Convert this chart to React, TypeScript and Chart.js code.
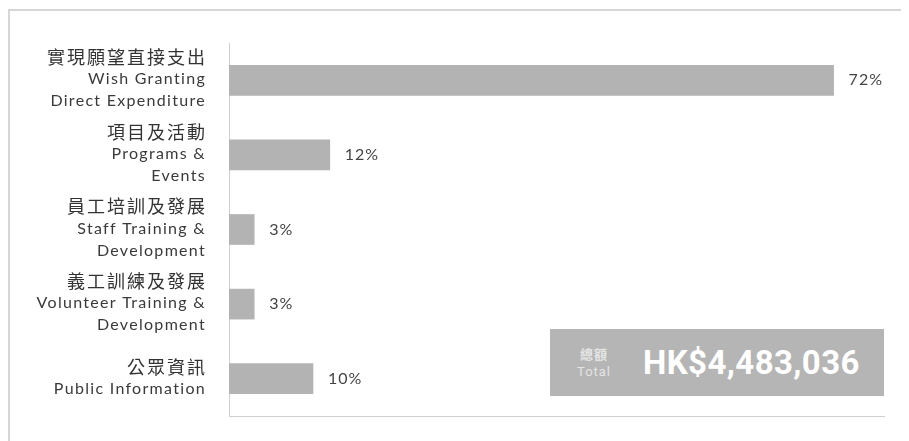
import React, { useEffect, useRef } from "react";
import { Chart, registerables } from "chart.js";

Chart.register(...registerables);

const categoriesZh: string[] = ["實現願望直接支出", "項目及活動", "員工培訓及發展", "義工訓練及發展", "公眾資訊"];
const categoriesEn: string[][] = [
  ["Wish Granting", "Direct Expenditure"],
  ["Programs &", "Events"],
  ["Staff Training &", "Development"],
  ["Volunteer Training &", "Development"],
  ["Public Information"],
];
const shares: number[] = [72, 12, 3, 3, 10];
const valueLabels: string[] = ["72%", "12%", "3%", "3%", "10%"];
const totalLabelZh = "總額";
const totalLabelEn = "Total";
const totalValue = "HK$4,483,036";

const labelPlugin = {
  id: "sideLabels",
  afterDraw(chart: any) {
    const { ctx, chartArea } = chart;
    const y = chart.scales.y;
    const x = chart.scales.x;
    ctx.save();
    categoriesZh.forEach((zh, i) => {
      const cy = y.getPixelForValue(i);
      const lines = [zh, ...categoriesEn[i]];
      const lh = 22;
      let ly = cy - ((lines.length - 1) * lh) / 2 - 1;
      const rx = chartArea.left - 24;
      lines.forEach((line, j) => {
        ctx.textAlign = "right";
        ctx.textBaseline = "middle";
        if (j === 0) {
          ctx.font = '18px "Noto Sans CJK TC"';
          (ctx as any).letterSpacing = "2px";
          ctx.fillStyle = "#333333";
          ctx.fillText(line, rx + 2, ly);
        } else {
          ctx.font = "16px Lato";
          (ctx as any).letterSpacing = "1.3px";
          ctx.fillStyle = "#3a3a3a";
          ctx.fillText(line, rx + 1, ly);
        }
        ly += lh;
      });
      (ctx as any).letterSpacing = "1px";
      ctx.font = "16px Lato";
      ctx.fillStyle = "#444444";
      ctx.textAlign = "left";
      ctx.textBaseline = "middle";
      ctx.fillText(valueLabels[i], x.getPixelForValue(shares[i]) + 15, cy);
    });
    ctx.restore();
  },
};

export default function App() {
  const ref = useRef<HTMLCanvasElement | null>(null);
  useEffect(() => {
    if (!ref.current) return;
    const chart = new Chart(ref.current, {
      type: "bar",
      data: {
        labels: categoriesZh,
        datasets: [
          {
            data: shares,
            backgroundColor: "#b3b3b3",
            barThickness: 30,
          },
        ],
      },
      options: {
        indexAxis: "y",
        responsive: false,
        animation: false,
        layout: { padding: { left: 221, right: 25, top: 35, bottom: 25 } },
        plugins: { legend: { display: false }, tooltip: { enabled: false } },
        scales: {
          x: {
            min: 0,
            max: 78,
            ticks: { display: false },
            grid: { display: false, drawTicks: false },
            border: { display: true, color: "#cfcfcf", width: 1 },
          },
          y: {
            ticks: { display: false },
            grid: { display: false, drawTicks: false },
            border: { display: true, color: "#cfcfcf", width: 1 },
          },
        },
      },
      plugins: [labelPlugin],
    });
    return () => chart.destroy();
  }, []);

  return (
    <div style={{ position: "relative", width: 901, height: 433, overflow: "hidden" }}>
      <div
        style={{
          position: "absolute",
          left: 0,
          top: 1,
          width: 920,
          height: 460,
          borderTop: "2px solid #d6d6d6",
          borderLeft: "2px solid #d6d6d6",
          boxSizing: "border-box",
        }}
      />
      <canvas ref={ref} width={901} height={433} style={{ position: "absolute", left: 0, top: 0 }} />
      <div
        style={{
          position: "absolute",
          left: 542,
          top: 321,
          width: 334,
          height: 67,
          background: "#b5b5b5",
          display: "flex",
          alignItems: "center",
          fontFamily: "Roboto, sans-serif",
        }}
      >
        <div
          style={{
            marginLeft: 27,
            color: "#e4e4e4",
            fontSize: 13,
            lineHeight: "18px",
            textAlign: "center",
            letterSpacing: 1,
          }}
        >
          <div style={{ fontFamily: '"Noto Sans CJK TC"', fontWeight: 700 }}>{totalLabelZh}</div>
          <div>{totalLabelEn}</div>
        </div>
        <div
          style={{
            marginLeft: 32,
            color: "#ffffff",
            fontSize: 33,
            fontWeight: 700,
            letterSpacing: 0.4,
          }}
        >
          {totalValue}
        </div>
      </div>
    </div>
  );
}
